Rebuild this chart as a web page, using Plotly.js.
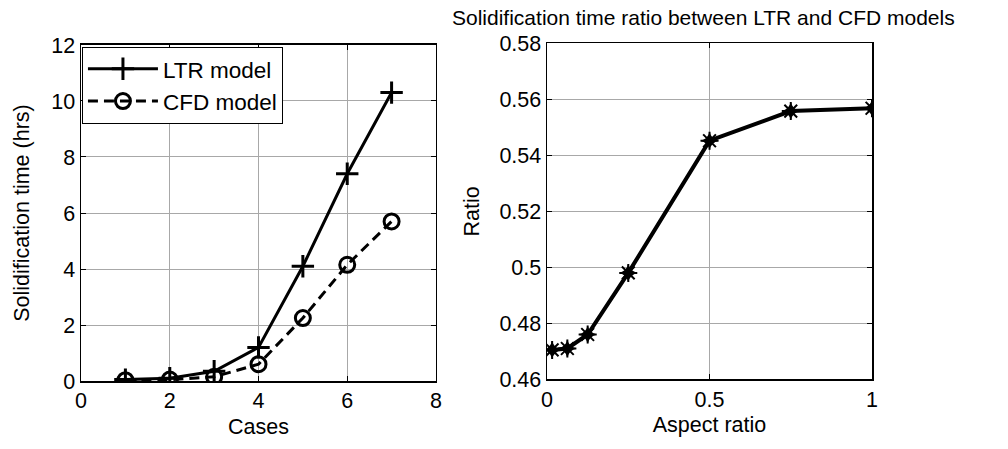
<!DOCTYPE html>
<html>
<head>
<meta charset="utf-8">
<script src="https://cdn.plot.ly/plotly-3.0.1.min.js"></script>
<style>html,body{margin:0;padding:0;background:#fff;}#chart{width:1008px;height:449px;}</style>
</head>
<body>
<div id="chart"></div>
<script>
// Left panel data
const cases = [1, 2, 3, 4, 5, 6, 7];
const ltrTime = [0.05, 0.1, 0.35, 1.2, 4.1, 7.4, 10.3];
const cfdTime = [0.03, 0.05, 0.15, 0.6, 2.25, 4.15, 5.7];
// Right panel data
const aspectRatio = [0.015625, 0.0625, 0.125, 0.25, 0.5, 0.75, 1.0];
const timeRatio = [0.4705, 0.471, 0.476, 0.498, 0.5452, 0.5558, 0.5568];

const FONT = 'Arial, "Liberation Sans", sans-serif';
const fs = 21.5;

const traces = [
  {x: cases, y: ltrTime, name: 'LTR model', type: 'scatter', mode: 'lines+markers',
   line: {color: '#000', width: 3},
   marker: {symbol: 'cross-thin-open', size: 16, color: '#000', line: {color: '#000', width: 3}},
   xaxis: 'x', yaxis: 'y'},
  {x: cases, y: cfdTime, name: 'CFD model', type: 'scatter', mode: 'lines+markers',
   line: {color: '#000', width: 3, dash: '10px,6px'},
   marker: {symbol: 'circle-open', size: 15, color: '#000', line: {color: '#000', width: 3}},
   xaxis: 'x', yaxis: 'y'},
  {x: aspectRatio, y: timeRatio, name: 'ratio', type: 'scatter', mode: 'lines+markers',
   line: {color: '#000', width: 4},
   marker: {symbol: 'star-diamond', size: 13, color: '#000'},
   showlegend: false, xaxis: 'x2', yaxis: 'y2'},
  {x: aspectRatio, y: timeRatio, name: 'ratio2', type: 'scatter', mode: 'markers',
   marker: {symbol: 'asterisk-open', size: 15, color: '#000', line: {color: '#000', width: 2}},
   showlegend: false, xaxis: 'x2', yaxis: 'y2'}
];

const axBase = {
  showline: true, linecolor: '#000', linewidth: 1.5, mirror: 'ticks',
  ticks: 'inside', ticklen: 5, tickwidth: 1, tickcolor: '#000',
  showgrid: true, gridcolor: '#a8a8a8', gridwidth: 1,
  zeroline: false, tickfont: {family: FONT, size: fs, color: '#000'}
};

const layout = {
  width: 1008, height: 449,
  margin: {l: 0, r: 0, t: 0, b: 0},
  paper_bgcolor: '#fff', plot_bgcolor: '#fff',
  font: {family: FONT, color: '#000', size: fs},
  showlegend: true,
  legend: {x: 0.0813, y: 0.896, xanchor: 'left', yanchor: 'top',
    bordercolor: '#000', borderwidth: 1, bgcolor: '#fff',
    font: {family: FONT, size: 22.5, color: '#000'}, itemwidth: 70,
    tracegroupgap: 0},
  xaxis: Object.assign({}, axBase, {domain: [0.0804, 0.4325], range: [0, 8], tickvals: [0, 2, 4, 6, 8],
    title: {text: 'Cases', font: {family: FONT, size: fs}, standoff: 6}, anchor: 'y'}),
  yaxis: Object.assign({}, axBase, {domain: [0.1514, 0.8998], range: [0, 12], tickvals: [0, 2, 4, 6, 8, 10, 12],
    title: {text: 'Solidification time (hrs)', font: {family: FONT, size: fs}, standoff: 16}, anchor: 'x'}),
  xaxis2: Object.assign({}, axBase, {domain: [0.5427, 0.8651], range: [0, 1], tickvals: [0, 0.5, 1],
    title: {text: 'Aspect ratio', font: {family: FONT, size: fs}, standoff: 6}, anchor: 'y2'}),
  yaxis2: Object.assign({}, axBase, {domain: [0.1552, 0.9036], range: [0.46, 0.58],
    tickvals: [0.46, 0.48, 0.5, 0.52, 0.54, 0.56, 0.58], ticktext: ['0.46', '0.48', '0.5', '0.52', '0.54', '0.56', '0.58'],
    title: {text: 'Ratio', font: {family: FONT, size: fs}, standoff: 14}, anchor: 'x2'}),
  annotations: [{
    text: 'Solidification time ratio between LTR and CFD models',
    xref: 'paper', yref: 'paper', x: 0.6975, y: 1 - 18 / 449, xanchor: 'center', yanchor: 'middle',
    showarrow: false, font: {family: FONT, size: 21, color: '#000'}
  }]
};

Plotly.newPlot('chart', traces, layout, {displayModeBar: false, staticPlot: true});
</script>
</body>
</html>
